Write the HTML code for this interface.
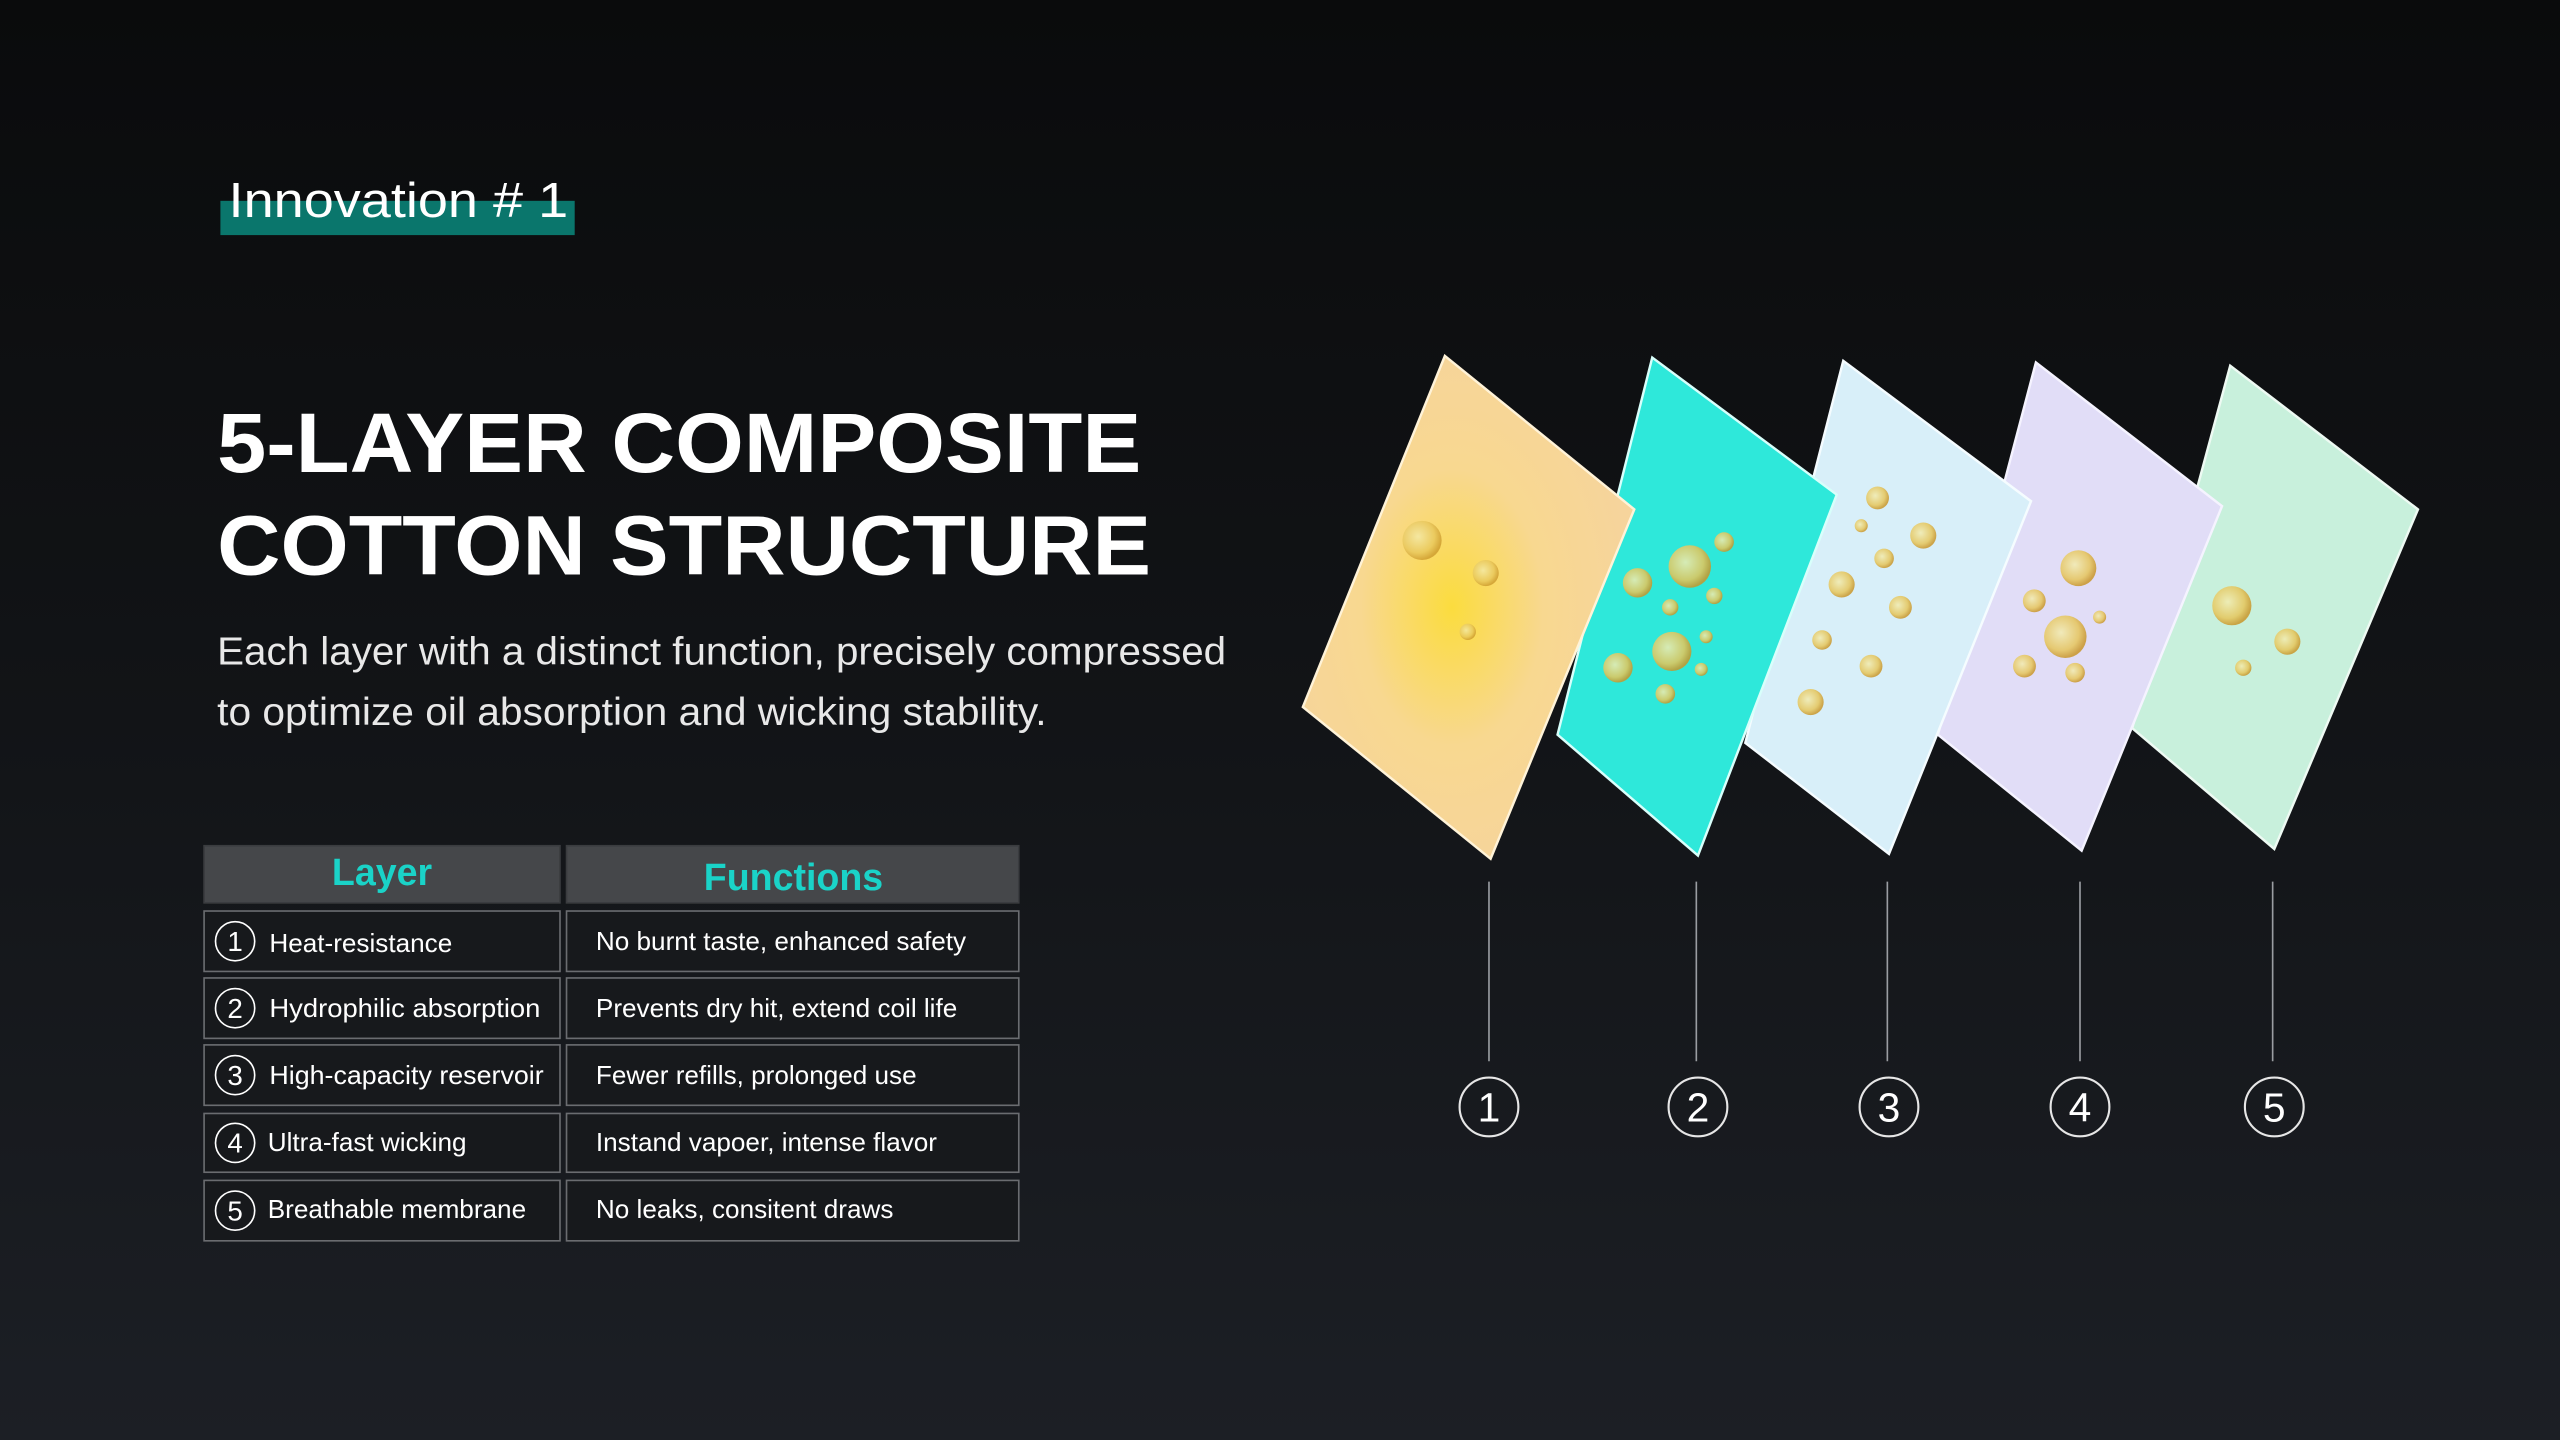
<!DOCTYPE html>
<html><head><meta charset="utf-8"><style>
html,body{margin:0;padding:0;width:2560px;height:1440px;overflow:hidden;background:#0d0e10}
svg{display:block}
</style></head><body>
<svg width="2560" height="1440" viewBox="0 0 1568 882" xmlns="http://www.w3.org/2000/svg" font-family="'Liberation Sans', sans-serif">
<defs>
<linearGradient id="bg" x1="0" y1="0" x2="0" y2="1">
<stop offset="0" stop-color="#0a0b0c"/><stop offset="0.5" stop-color="#121417"/><stop offset="1" stop-color="#1c1f25"/>
</linearGradient>
<radialGradient id="p1" cx="0.45" cy="0.5" r="0.55">
<stop offset="0" stop-color="#fbdc3e"/><stop offset="0.5" stop-color="#f8d890"/><stop offset="1" stop-color="#f6d49c"/>
</radialGradient>
<radialGradient id="oil" cx="0.4" cy="0.4" r="0.6">
<stop offset="0" stop-color="#f3ecb0"/><stop offset="0.7" stop-color="#e6c55a"/><stop offset="1" stop-color="#c9962a"/>
</radialGradient>
</defs>
<rect width="1568" height="882" fill="url(#bg)"/>

<!-- heading -->
<rect x="135" y="123" width="217" height="21" fill="#0a766c"/>
<text x="140" y="133" font-size="30" fill="#fff" textLength="208" lengthAdjust="spacingAndGlyphs">Innovation # 1</text>
<text x="133" y="289" font-size="52" font-weight="bold" fill="#fff" textLength="566" lengthAdjust="spacingAndGlyphs">5-LAYER COMPOSITE</text>
<text x="133" y="352" font-size="52" font-weight="bold" fill="#fff" textLength="572" lengthAdjust="spacingAndGlyphs">COTTON STRUCTURE</text>
<text x="133" y="407" font-size="24" fill="#e8e8e8" textLength="618" lengthAdjust="spacingAndGlyphs">Each layer with a distinct function, precisely compressed</text>
<text x="133" y="444" font-size="24" fill="#e8e8e8" textLength="508" lengthAdjust="spacingAndGlyphs">to optimize oil absorption and wicking stability.</text>

<!-- table -->
<rect x="125" y="518" width="218" height="35" fill="#45474a" stroke="#3a3c3f"/>
<rect x="347" y="518" width="277" height="35" fill="#45474a" stroke="#3a3c3f"/>
<text x="234" y="542" font-size="23" font-weight="bold" fill="#1ad3c8" text-anchor="middle">Layer</text>
<text x="486" y="545" font-size="23" font-weight="bold" fill="#1ad3c8" text-anchor="middle">Functions</text>
<g font-size="16" fill="#fff" stroke-width="1">
<g>
<rect x="125" y="558" width="218" height="37" fill="#17191c" stroke="#6a6c70"/>
<rect x="347" y="558" width="277" height="37" fill="#17191c" stroke="#6a6c70"/>
<circle cx="144" cy="576.5" r="12" fill="none" stroke="#fff"/><text x="144" y="582.5" text-anchor="middle" font-size="17">1</text>
<text x="165" y="583">Heat-resistance</text><text x="365" y="582">No burnt taste, enhanced safety</text>
</g>
<g>
<rect x="125" y="599" width="218" height="37" fill="#17191c" stroke="#6a6c70"/>
<rect x="347" y="599" width="277" height="37" fill="#17191c" stroke="#6a6c70"/>
<circle cx="144" cy="617.5" r="12" fill="none" stroke="#fff"/><text x="144" y="623.5" text-anchor="middle" font-size="17">2</text>
<text x="165" y="623" textLength="166" lengthAdjust="spacingAndGlyphs">Hydrophilic absorption</text><text x="365" y="623">Prevents dry hit, extend coil life</text>
</g>
<g>
<rect x="125" y="640" width="218" height="37" fill="#17191c" stroke="#6a6c70"/>
<rect x="347" y="640" width="277" height="37" fill="#17191c" stroke="#6a6c70"/>
<circle cx="144" cy="658.5" r="12" fill="none" stroke="#fff"/><text x="144" y="664.5" text-anchor="middle" font-size="17">3</text>
<text x="165" y="664" textLength="168" lengthAdjust="spacingAndGlyphs">High-capacity reservoir</text><text x="365" y="664">Fewer refills, prolonged use</text>
</g>
<g>
<rect x="125" y="682" width="218" height="36" fill="#17191c" stroke="#6a6c70"/>
<rect x="347" y="682" width="277" height="36" fill="#17191c" stroke="#6a6c70"/>
<circle cx="144" cy="700" r="12" fill="none" stroke="#fff"/><text x="144" y="706" text-anchor="middle" font-size="17">4</text>
<text x="164" y="705">Ultra-fast wicking</text><text x="365" y="705">Instand vapoer, intense flavor</text>
</g>
<g>
<rect x="125" y="723" width="218" height="37" fill="#17191c" stroke="#6a6c70"/>
<rect x="347" y="723" width="277" height="37" fill="#17191c" stroke="#6a6c70"/>
<circle cx="144" cy="741.5" r="12" fill="none" stroke="#fff"/><text x="144" y="747.5" text-anchor="middle" font-size="17">5</text>
<text x="164" y="746">Breathable membrane</text><text x="365" y="746">No leaks, consitent draws</text>
</g>
</g>

<!-- panels, back to front -->
<g>
<polygon points="1366,224 1481,312 1393,520 1306,446" fill="#c8f0dc" stroke="#eefaf3" stroke-width="1.5"/>
<circle cx="1367" cy="371" r="12" fill="url(#oil)" opacity="0.85"/>
<circle cx="1401" cy="393" r="8" fill="url(#oil)" opacity="0.85"/>
<circle cx="1374" cy="409" r="5" fill="url(#oil)" opacity="0.85"/>
</g>
<g>
<polygon points="1247,222 1361,310 1275,521 1187,450" fill="#e1ddf7" stroke="#f5f3ff" stroke-width="1.5"/>
<circle cx="1273" cy="348" r="11" fill="url(#oil)" opacity="0.85"/>
<circle cx="1246" cy="368" r="7" fill="url(#oil)" opacity="0.85"/>
<circle cx="1265" cy="390" r="13" fill="url(#oil)" opacity="0.85"/>
<circle cx="1240" cy="408" r="7" fill="url(#oil)" opacity="0.85"/>
<circle cx="1271" cy="412" r="6" fill="url(#oil)" opacity="0.85"/>
<circle cx="1286" cy="378" r="4" fill="url(#oil)" opacity="0.85"/>
</g>
<g>
<polygon points="1129,221 1244,307 1157,523 1069,455" fill="#d8eff9" stroke="#f5fcff" stroke-width="1.5"/>
<circle cx="1150" cy="305" r="7" fill="url(#oil)" opacity="0.85"/>
<circle cx="1178" cy="328" r="8" fill="url(#oil)" opacity="0.85"/>
<circle cx="1154" cy="342" r="6" fill="url(#oil)" opacity="0.85"/>
<circle cx="1128" cy="358" r="8" fill="url(#oil)" opacity="0.85"/>
<circle cx="1164" cy="372" r="7" fill="url(#oil)" opacity="0.85"/>
<circle cx="1116" cy="392" r="6" fill="url(#oil)" opacity="0.85"/>
<circle cx="1146" cy="408" r="7" fill="url(#oil)" opacity="0.85"/>
<circle cx="1109" cy="430" r="8" fill="url(#oil)" opacity="0.85"/>
<circle cx="1140" cy="322" r="4" fill="url(#oil)" opacity="0.85"/>
</g>
<g>
<polygon points="1012,219 1125,303 1040,524 954,450" fill="#2ee8da" stroke="#d8fffb" stroke-width="1.5"/>
<circle cx="1035" cy="347" r="13" fill="url(#oil)" opacity="0.85"/>
<circle cx="1003" cy="357" r="9" fill="url(#oil)" opacity="0.85"/>
<circle cx="1056" cy="332" r="6" fill="url(#oil)" opacity="0.85"/>
<circle cx="1023" cy="372" r="5" fill="url(#oil)" opacity="0.85"/>
<circle cx="1050" cy="365" r="5" fill="url(#oil)" opacity="0.85"/>
<circle cx="1024" cy="399" r="12" fill="url(#oil)" opacity="0.85"/>
<circle cx="991" cy="409" r="9" fill="url(#oil)" opacity="0.85"/>
<circle cx="1020" cy="425" r="6" fill="url(#oil)" opacity="0.85"/>
<circle cx="1045" cy="390" r="4" fill="url(#oil)" opacity="0.85"/>
<circle cx="1042" cy="410" r="4" fill="url(#oil)" opacity="0.85"/>
</g>
<g>
<polygon points="885,218 1001,312 913,526 798,433" fill="url(#p1)" stroke="#fff3d8" stroke-width="1.5"/>
<circle cx="871" cy="331" r="12" fill="url(#oil)" opacity="0.75"/>
<circle cx="910" cy="351" r="8" fill="url(#oil)" opacity="0.75"/>
<circle cx="899" cy="387" r="5" fill="url(#oil)" opacity="0.75"/>
</g>

<!-- connectors -->
<g stroke="#9a9da2" stroke-width="1">
<line x1="912" y1="540" x2="912" y2="650"/>
<line x1="1039" y1="540" x2="1039" y2="650"/>
<line x1="1156" y1="540" x2="1156" y2="650"/>
<line x1="1274" y1="540" x2="1274" y2="650"/>
<line x1="1392" y1="540" x2="1392" y2="650"/>
</g>
<g fill="none" stroke="#e6e6e6" stroke-width="1.3">
<circle cx="912" cy="678" r="18"/><circle cx="1040" cy="678" r="18"/><circle cx="1157" cy="678" r="18"/><circle cx="1274" cy="678" r="18"/><circle cx="1393" cy="678" r="18"/>
</g>
<g fill="#fff" font-size="25" text-anchor="middle">
<text x="912" y="687">1</text><text x="1040" y="687">2</text><text x="1157" y="687">3</text><text x="1274" y="687">4</text><text x="1393" y="687">5</text>
</g>
</svg>
</body></html>
